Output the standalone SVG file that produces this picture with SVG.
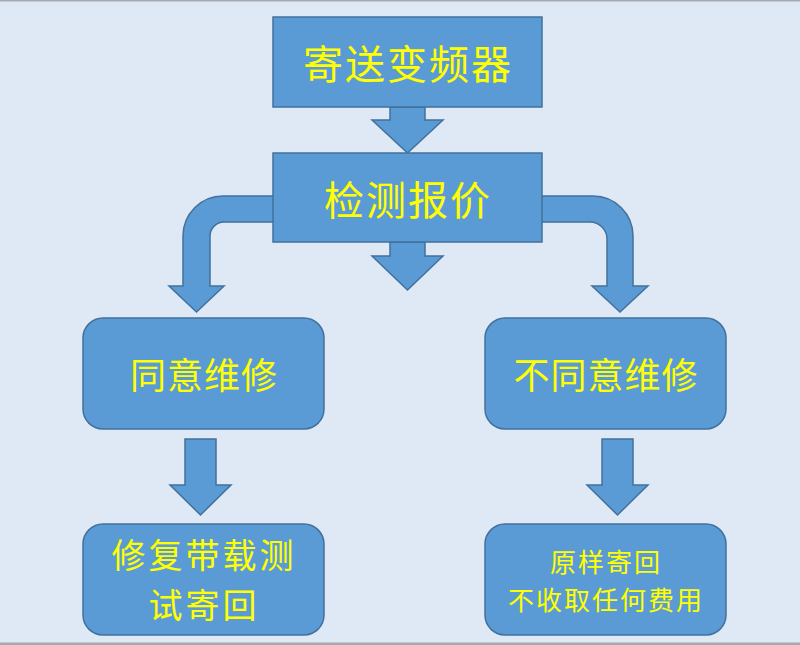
<svg xmlns="http://www.w3.org/2000/svg" width="800" height="645" viewBox="0 0 800 645">
<style>
.shape{fill:#5b9bd5;stroke:#41719c;stroke-width:1.5}
.t{fill:#ffff00;font-family:"Noto Sans CJK SC","Noto Sans CJK TC",sans-serif;text-anchor:middle;dominant-baseline:central}
.big{font-size:40px;letter-spacing:2px}
.mid{font-size:36px;letter-spacing:1px}
.mid2{font-size:34px;letter-spacing:3px}
.sm{font-size:26px;letter-spacing:2px}
</style>
<rect x="0" y="0" width="800" height="645" fill="#dee9f5"/>
<rect x="0" y="0" width="800" height="1.5" fill="#a6a9b0"/>
<rect x="0" y="642.5" width="800" height="2.5" fill="#a6a9b0"/>
<g id="connectors">
<path class="shape" d="M390,107 L425,107 L425,120 L443,120 L407.5,153 L372,120 L390,120 Z"/>
<path class="shape" d="M390,242 L425,242 L425,256 L443,256 L407.5,290 L372,256 L390,256 Z"/>
<path class="shape" d="M274,196 L223,196 A40,40 0 0 0 183,236 L183,286 L169,286 L196.5,312 L224,286 L210,286 L210,236 A14,14 0 0 1 224,222 L274,222 Z"/>
<path class="shape" d="M541,196 L593,196 A40,40 0 0 1 633,236 L633,286 L648,286 L620,312 L592,286 L607,286 L607,239 A17,17 0 0 0 590,222 L541,222 Z"/>
<path class="shape" d="M185,439 L216,439 L216,485 L231,485 L200.5,515 L170,485 L185,485 Z"/>
<path class="shape" d="M602,439 L633,439 L633,485 L648,485 L617.5,515 L587,485 L602,485 Z"/>
</g>
<g id="send">
<rect class="shape" x="273" y="17" width="269" height="90"/>
<text class="t big" x="408" y="62">寄送变频器</text>
</g>
<g id="inspect">
<rect class="shape" x="273" y="153" width="269" height="89"/>
<text class="t big" x="408" y="198">检测报价</text>
</g>
<g id="agree">
<rect class="shape" x="83" y="318" width="241" height="111" rx="20" ry="20"/>
<text class="t mid" x="204" y="373">同意维修</text>
</g>
<g id="disagree">
<rect class="shape" x="485" y="318" width="241" height="111" rx="20" ry="20"/>
<text class="t mid" x="606" y="373">不同意维修</text>
</g>
<g id="repair">
<rect class="shape" x="83" y="524" width="241" height="111" rx="20" ry="20"/>
<text class="t mid2" x="204" y="553">修复带载测</text>
<text class="t mid2" x="204" y="603">试寄回</text>
</g>
<g id="return">
<rect class="shape" x="485" y="524" width="241" height="111" rx="20" ry="20"/>
<text class="t sm" x="606" y="560">原样寄回</text>
<text class="t sm" x="606" y="598">不收取任何费用</text>
</g>
</svg>
